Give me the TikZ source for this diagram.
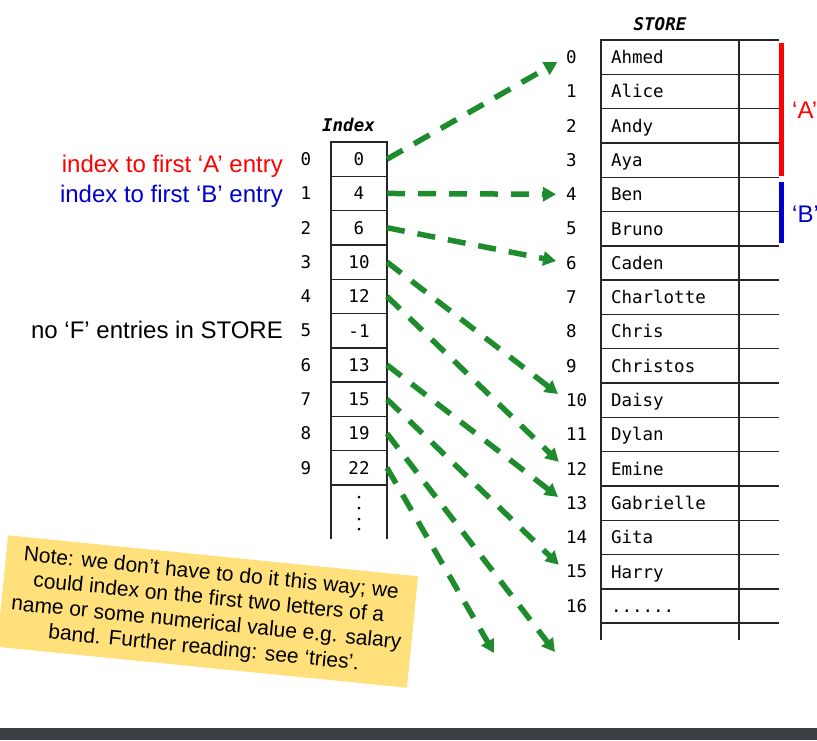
\documentclass[tikz,border=0pt]{standalone}
\usepackage{fontspec}
\setmainfont{Liberation Sans}
\newfontfamily\monofont{DejaVu Sans Mono}
\usetikzlibrary{arrows.meta}
\definecolor{ptrgreen}{RGB}{30,140,45}
\definecolor{notefill}{RGB}{255,224,122}
\definecolor{bblue}{RGB}{0,0,204}
\definecolor{bardark}{RGB}{60,63,67}
\newcommand{\moreentries}{......}

\begin{document}
\begin{tikzpicture}[
    x=1pt, y=-1pt,
    cell/.style={draw=black!85, line width=1.4pt, minimum width=56pt, minimum height=34.3pt,
      inner sep=0pt, outer sep=0pt, text height=12.8pt, text depth=0pt,
      font=\monofont\fontsize{17.5}{20}\selectfont},
    namecell/.style={cell, minimum width=138pt, text width=118pt, align=left, inner xsep=10pt},
    num/.style={inner sep=0pt, font=\monofont\fontsize{17.5}{20}\selectfont},
    head/.style={inner sep=0pt, font=\monofont\bfseries\itshape\fontsize{17.5}{20}\selectfont},
    side/.style={inner sep=0pt, font=\fontsize{24}{28}\selectfont},
    note/.style={fill=notefill, minimum width=412pt, minimum height=112pt, inner sep=0pt,
      align=center, font=\fontsize{21}{25}\selectfont},
    ptr/.style={draw=ptrgreen, line width=5.5pt, dash pattern=on 18pt off 13pt,
      -{Triangle[length=13pt,width=14pt]}, shorten >=10pt}
  ]
  \useasboundingbox (0,0) rectangle (817,740);
  \fill[bardark] (0,728) rectangle (817,740);

  \node[head] (indexhead) at (348.5,125) {Index};
  \foreach \v [count=\i from 0] in {0,4,6,10,12,-1,13,15,19,22} {
    \node[cell] (idx\i) at (359,{159.15+34.3*\i}) {\v};
    \node[num] (in\i) at (306,{159.15+34.3*\i}) {\i};
  }
  \draw[black!85, line width=1.4pt] (idx9.south west) -- ++(0,54)
    (idx9.south east) -- ++(0,54);
  \foreach \d in {497,508,519,529}
    \fill (359,\d) circle [radius=1.5pt];

  \node[head] (storehead) at (660,24) {STORE};
  \foreach \n [count=\i from 0] in {Ahmed,Alice,Andy,Aya,Ben,Bruno,Caden,Charlotte,Chris,
      Christos,Daisy,Dylan,Emine,Gabrielle,Gita,Harry,\moreentries} {
    \node[namecell, anchor=west] (st\i) at (601,{57.15+34.3*\i}) {\n};
    \node[num, anchor=west] (sn\i) at (566,{57.15+34.3*\i}) {\i};
    \draw[black!85, line width=1.4pt] (st\i.north east) -- ++(40,0)
      (st\i.south east) -- ++(40,0);
  }
  \draw[black!85, line width=1.4pt] (st16.south west) -- ++(0,17)
    (st16.south east) -- ++(0,17);

  \draw[red, line width=4.7pt] (781.7,43) -- (781.7,176);
  \draw[bblue, line width=4.7pt] (781.7,182) -- (781.7,243);
  \node[side, red, anchor=base west] (groupA) at (792,118) {‘A’};
  \node[side, bblue, anchor=base west] (groupB) at (792,222) {‘B’};

  \node[side, red, anchor=base east] (firstA) at (283,172) {index to first ‘A’ entry};
  \node[side, bblue, anchor=base east] (firstB) at (283,202) {index to first ‘B’ entry};
  \node[side, anchor=base east] (noF) at (283,338) {no ‘F’ entries in STORE};

  \coordinate (off8) at (555,652);
  \coordinate (off9) at (494,653);
  \draw[ptr] (idx0.east) -- (sn0.west);
  \draw[ptr] (idx1.east) -- (sn4.west);
  \draw[ptr] (idx2.east) -- (sn6.west);
  \draw[ptr] (idx3.east) -- (sn10.west);
  \draw[ptr] (idx4.east) -- (sn12.west);
  \draw[ptr] (idx6.east) -- (sn13.west);
  \draw[ptr] (idx7.east) -- (sn15.west);
  \draw[ptr, shorten >=0pt] (idx8.east) -- (off8);
  \draw[ptr, shorten >=0pt] (idx9.east) -- (off9);

  \node[note, rotate=-5.7] (tip) at (207.5,611.5) {Note: we don’t have to do it this way; we\\
    could index on the first two letters of a\\
    name or some numerical value e.g. salary\\
    band. Further reading: see ‘tries’.};
\end{tikzpicture}
\end{document}
